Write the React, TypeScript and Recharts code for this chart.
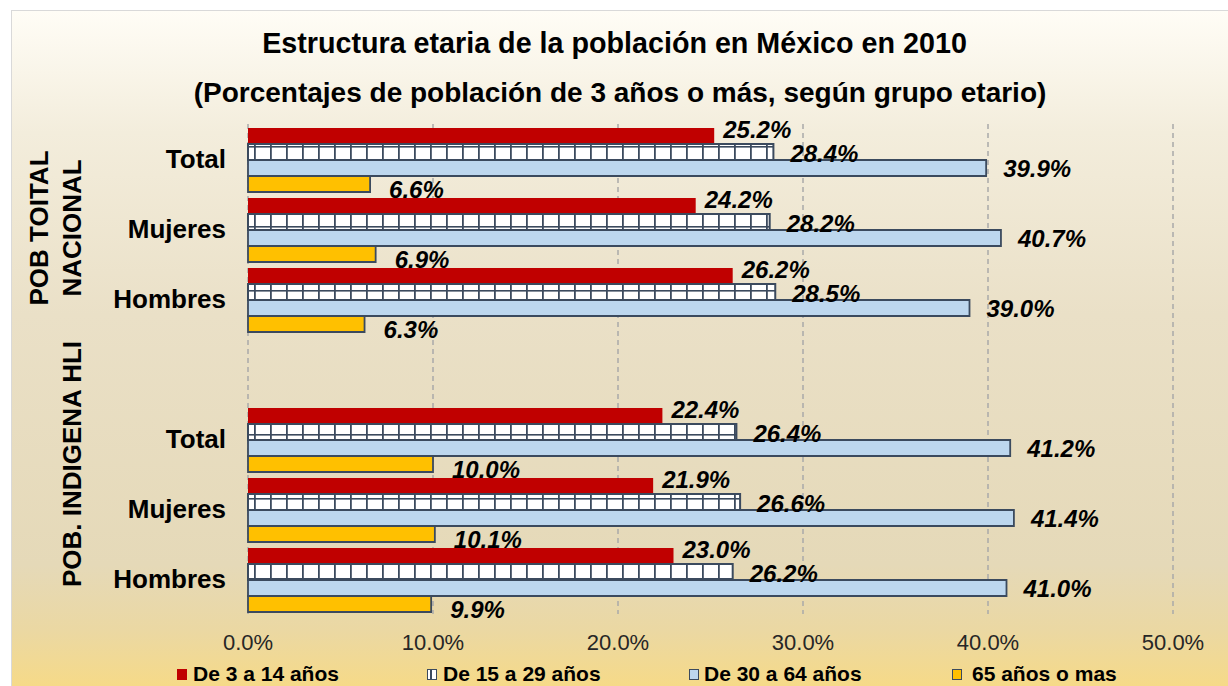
import React from 'react';
import { BarChart, Bar, XAxis, YAxis, CartesianGrid, LabelList } from 'recharts';

const categoryKeys = ['nac-total', 'nac-mujeres', 'nac-hombres', 'gap', 'hli-total', 'hli-mujeres', 'hli-hombres'];
const categoryLabels = ['Total', 'Mujeres', 'Hombres', '', 'Total', 'Mujeres', 'Hombres'];
const age3to14 = [25.2, 24.2, 26.2, null, 22.4, 21.9, 23.0];
const age15to29 = [28.4, 28.2, 28.5, null, 26.4, 26.6, 26.2];
const age30to64 = [39.9, 40.7, 39.0, null, 41.2, 41.4, 41.0];
const age65plus = [6.6, 6.9, 6.3, null, 10.0, 10.1, 9.9];
const seriesNames = ['De 3 a 14 años', 'De 15 a 29 años', 'De 30 a 64 años', '65 años o mas'];
const xTicks = [0, 10, 20, 30, 40, 50];
const titleLines = ['Estructura etaria de la población en México en 2010', '(Porcentajes de población de 3 años o más, según grupo etario)'];
const groupNacional = ['POB TOITAL', 'NACIONAL'];
const groupIndigena = ['POB. INDIGENA HLI'];

const data = categoryKeys.map((key, i) => ({
  key,
  label: categoryLabels[i],
  a: age3to14[i],
  b: age15to29[i],
  c: age30to64[i],
  d: age65plus[i],
}));

const FONT = "'Liberation Sans', Arial, Helvetica, sans-serif";
const OUTLINE = '#3B4A5E';
const RED = '#C00000';
const BLUE = '#BDD7EE';
const YELLOW = '#FFC000';

const makeLabel = (dx: number, dy: number) => (props: any) => {
  const { x, y, width, height, value } = props;
  if (value == null) return null;
  return (
    <text
      x={Number(x) + Number(width) + dx}
      y={Number(y) + Number(height) / 2 + dy}
      dominantBaseline="central"
      fontFamily={FONT}
      fontSize={24}
      fontWeight="bold"
      fontStyle="italic"
      fill="#000"
    >
      {Number(value).toFixed(1)}%
    </text>
  );
};

const legendItems = [
  { name: seriesNames[0], left: 177, fill: RED, border: 'none', hatch: false, gap: 6 },
  { name: seriesNames[1], left: 427, fill: '#fff', border: `1.5px solid ${OUTLINE}`, hatch: true, gap: 6 },
  { name: seriesNames[2], left: 689, fill: BLUE, border: `1.5px solid ${OUTLINE}`, hatch: false, gap: 5 },
  { name: seriesNames[3], left: 952, fill: YELLOW, border: `1.5px solid ${OUTLINE}`, hatch: false, gap: 10 },
];

export default function App() {
  return (
    <div style={{ position: 'absolute', left: 0, top: 0, width: 1228, height: 686, background: '#fff', overflow: 'hidden', fontFamily: FONT }}>
      <svg width={0} height={0} style={{ position: 'absolute' }}>
        <defs>
          <pattern id="hatchGrid" patternUnits="userSpaceOnUse" x={14} y={2} width={16} height={16}>
            <rect x={0} y={0} width={16} height={16} fill="#fff" />
            <rect x={0} y={0} width={16} height={1.6} fill={OUTLINE} />
            <rect x={0} y={0} width={1.8} height={16} fill={OUTLINE} />
          </pattern>
        </defs>
      </svg>
      <div
        style={{
          position: 'absolute',
          left: 11,
          top: 10,
          width: 1217,
          height: 676,
          boxSizing: 'border-box',
          borderTop: '1.5px solid #D9D9D9',
          borderLeft: '1.5px solid #D9D9D9',
          background: 'linear-gradient(180deg, #FFFDF6 0%, #F3EDDC 18%, #EAE0C7 45%, #E5D9B8 82%, #EBD8A2 92%, #F6DA88 100%)',
        }}
      />
      <div style={{ position: 'absolute', left: 0, top: 0 }}>
        <BarChart
          width={1228}
          height={686}
          data={data}
          layout="vertical"
          margin={{ top: 124, right: 55, bottom: 42, left: 0 }}
          barCategoryGap={4}
          barGap={0}
        >
          <CartesianGrid horizontal={false} vertical={true} stroke="#A9A9A9" strokeWidth={1.5} strokeDasharray="5 4" />
          <XAxis
            type="number"
            domain={[0, 50]}
            ticks={xTicks}
            tickFormatter={(v: number) => `${v.toFixed(1)}%`}
            axisLine={false}
            tickLine={false}
            tickSize={0}
            tickMargin={20}
            height={30}
            tick={{ fontSize: 22, fill: '#262626', fontFamily: FONT }}
          />
          <YAxis
            type="category"
            dataKey="key"
            width={248}
            interval={0}
            axisLine={false}
            tickLine={false}
            tickSize={0}
            tickMargin={22}
            tickFormatter={(k: string) => {
              const i = categoryKeys.indexOf(k);
              return i >= 0 ? categoryLabels[i] : '';
            }}
            tick={{ fontSize: 26, fontWeight: 'bold', fill: '#000', fontFamily: FONT }}
          />
          <Bar dataKey="a" name={seriesNames[0]} fill={RED} isAnimationActive={false}>
            <LabelList dataKey="a" content={makeLabel(9, -7)} />
          </Bar>
          <Bar dataKey="b" name={seriesNames[1]} fill="url(#hatchGrid)" stroke={OUTLINE} strokeWidth={2} isAnimationActive={false}>
            <LabelList dataKey="b" content={makeLabel(17, 1)} />
          </Bar>
          <Bar dataKey="c" name={seriesNames[2]} fill={BLUE} stroke={OUTLINE} strokeWidth={1.8} isAnimationActive={false}>
            <LabelList dataKey="c" content={makeLabel(17, 0)} />
          </Bar>
          <Bar dataKey="d" name={seriesNames[3]} fill={YELLOW} stroke={OUTLINE} strokeWidth={1.8} isAnimationActive={false}>
            <LabelList dataKey="d" content={makeLabel(19, 5)} />
          </Bar>
        </BarChart>
      </div>
      <svg width={1228} height={686} style={{ position: 'absolute', left: 0, top: 0, pointerEvents: 'none' }}>
        <text x={614.5} y={53} textAnchor="middle" fontFamily={FONT} fontSize={28.7} fontWeight="bold" fill="#000">
          {titleLines[0]}
        </text>
        <text x={620} y={102} textAnchor="middle" fontFamily={FONT} fontSize={28} fontWeight="bold" fill="#000">
          {titleLines[1]}
        </text>
        <text transform="translate(47.5,228) rotate(-90)" textAnchor="middle" fontFamily={FONT} fontSize={26} fontWeight="bold" fill="#000">
          {groupNacional[0]}
        </text>
        <text transform="translate(81,228) rotate(-90)" textAnchor="middle" fontFamily={FONT} fontSize={26} fontWeight="bold" fill="#000">
          {groupNacional[1]}
        </text>
        <text transform="translate(80.5,464) rotate(-90)" textAnchor="middle" fontFamily={FONT} fontSize={26} fontWeight="bold" fill="#000">
          {groupIndigena[0]}
        </text>
      </svg>
      {legendItems.map((it) => (
        <div
          key={it.name}
          style={{ position: 'absolute', left: it.left, top: 663, height: 22, display: 'flex', alignItems: 'center', whiteSpace: 'nowrap' }}
        >
          <div
            style={{
              width: 10,
              height: 11,
              boxSizing: 'border-box',
              background: it.fill,
              border: it.border,
              position: 'relative',
              marginRight: it.gap,
            }}
          >
            {it.hatch ? (
              <div style={{ position: 'absolute', left: 2, top: 0, width: 1.5, height: '100%', background: OUTLINE }} />
            ) : null}
          </div>
          <span style={{ fontSize: 21, fontWeight: 'bold', color: '#000', lineHeight: '22px' }}>{it.name}</span>
        </div>
      ))}
    </div>
  );
}
